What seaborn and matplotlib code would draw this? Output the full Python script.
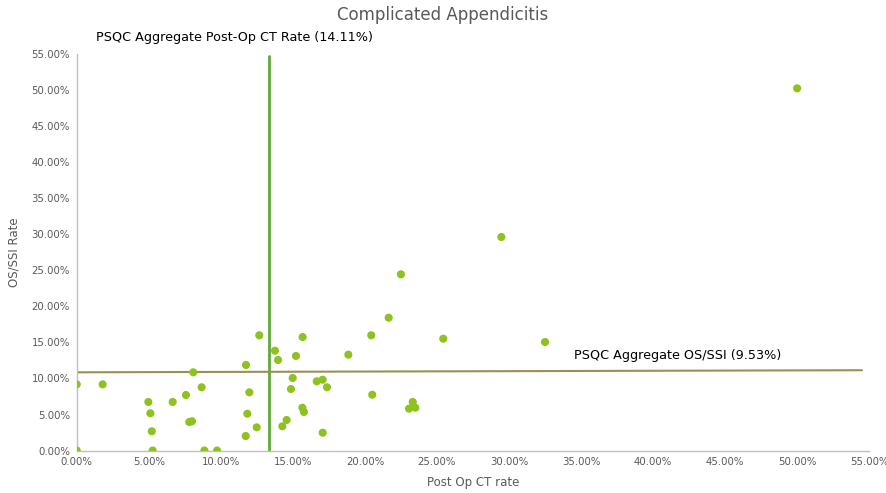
import matplotlib
matplotlib.use("Agg")
import matplotlib.pyplot as plt
import seaborn as sns
import pandas as pd
from matplotlib.ticker import FuncFormatter, MultipleLocator

# Data (percent values)
post_op_ct_rate = [0.00, 1.80, 4.97, 5.11, 5.21, 5.27, 6.66, 7.58, 7.81, 8.00,
                   8.09, 8.67, 8.86, 9.74, 11.75, 11.98, 11.84, 12.49, 11.73, 12.67,
                   13.76, 13.97, 0.00, 15.68, 15.22, 18.85, 20.44, 25.44, 14.99, 14.87,
                   16.66, 17.07, 17.37, 20.51, 23.32, 23.06, 23.50, 15.66, 15.77, 14.57,
                   14.27, 17.07, 29.47, 22.50, 21.65, 32.50, 50.00]
os_ssi_rate = [9.19, 9.19, 6.74, 5.17, 2.67, 0.00, 6.74, 7.71, 3.96, 4.06,
               10.86, 8.78, 0.00, 0.00, 11.88, 8.08, 5.11, 3.22, 2.01, 16.00,
               13.86, 12.57, 0.00, 15.76, 13.13, 13.31, 16.00, 15.53, 10.07, 8.54,
               9.61, 9.83, 8.78, 7.75, 6.74, 5.81, 5.94, 5.94, 5.35, 4.24,
               3.36, 2.47, 29.65, 24.47, 18.44, 15.07, 50.30]

ct_ref_line_x = [13.35, 13.35]
ct_ref_line_y = [0.0, 54.8]
ssi_ref_line_x = [0.0, 54.5]
ssi_ref_line_y = [10.86, 11.15]

title = "Complicated Appendicitis"
ct_label = "PSQC Aggregate Post-Op CT Rate (14.11%)"
ssi_label = "PSQC Aggregate OS/SSI (9.53%)"
x_label = "Post Op CT rate"
y_label = "OS/SSI Rate"

df = pd.DataFrame({"ct": post_op_ct_rate, "ssi": os_ssi_rate})

sns.set_theme(style="white")
plt.rcParams['font.family'] = ['DejaVu Sans']

fig = plt.figure(figsize=(8.86, 4.93), dpi=100)
ax = fig.add_axes([0.0866, 0.0862, 0.981 - 0.0866, 0.8895 - 0.0862])

sns.scatterplot(data=df, x="ct", y="ssi", ax=ax, color="#8DC21F", s=34,
                edgecolor="none", zorder=3)
ax.plot(ct_ref_line_x, ct_ref_line_y, color="#5EAA3A", lw=2.0, zorder=2)
ax.plot(ssi_ref_line_x, ssi_ref_line_y, color="#9C8E58", lw=1.5, zorder=2)

ax.set_xlim(0, 55)
ax.set_ylim(0, 55)
ax.xaxis.set_major_locator(MultipleLocator(5))
ax.yaxis.set_major_locator(MultipleLocator(5))
fmt = FuncFormatter(lambda v, p: f"{v:.2f}%")
ax.xaxis.set_major_formatter(fmt)
ax.yaxis.set_major_formatter(fmt)
ax.tick_params(axis="both", labelsize=7.3, colors="#595959", length=0, pad=5)

for side in ["top", "right"]:
    ax.spines[side].set_visible(False)
for side in ["left", "bottom"]:
    ax.spines[side].set_color("#BFBFBF")
    ax.spines[side].set_linewidth(1.0)

ax.set_xlabel(x_label, fontsize=8.5, color="#595959", labelpad=6)
ax.set_ylabel(y_label, fontsize=8.5, color="#595959", labelpad=8)

fig.text(0.5, 1 - 15 / 493, title, ha="center", va="center", fontsize=12,
         color="#595959")
ax.text(1.34, 57.3, ct_label, ha="left", va="center", fontsize=9.2,
        color="black", clip_on=False)
ax.text(34.5, 13.26, ssi_label, ha="left", va="center", fontsize=9.2,
        color="black", clip_on=False)

fig.savefig("out.png", dpi=100)
